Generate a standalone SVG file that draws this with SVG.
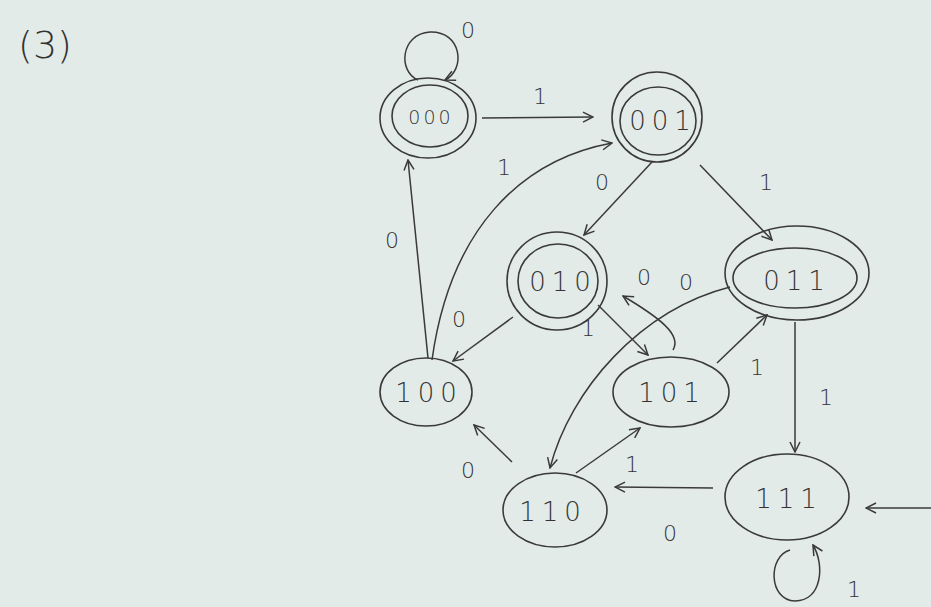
<svg xmlns="http://www.w3.org/2000/svg" width="931" height="607" viewBox="0 0 931 607">
<defs>
<marker id="a" viewBox="0 0 12 12" refX="11" refY="6" markerWidth="12" markerHeight="12" markerUnits="userSpaceOnUse" orient="auto">
<path d="M1 1 L11 6 L1 11" fill="none" stroke="#3a3a3a" stroke-width="1.5"/>
</marker>
<style>
.n{fill:none;stroke:#3a3a3a;stroke-width:1.6}
.e{fill:none;stroke:#3a3a3a;stroke-width:1.5;marker-end:url(#a)}
.t{font-family:"DejaVu Sans","Liberation Sans",sans-serif;fill:#333;text-anchor:middle;font-weight:300}
.l{font-size:22px}
.s{font-size:26px;letter-spacing:6px}
</style>
</defs>
<rect width="931" height="607" fill="#e3ebe9"/>
<text class="t" x="45" y="58" font-size="38">(3)</text>
<g id="connectors">
<path class="e" d="M418 80 C398 72 400 34 430 32 C462 31 466 70 445 80"/>
<path class="e" d="M482 118 L593 117"/>
<path class="e" d="M432 360 C450 230 520 160 612 143"/>
<path class="e" d="M428 358 L408 160"/>
<path class="e" d="M652 162 L584 235"/>
<path class="e" d="M700 165 L772 240"/>
<path class="e" d="M513 317 L453 361"/>
<path class="e" d="M598 305 L648 355"/>
<path class="e" d="M673 350 C682 335 660 318 623 296"/>
<path class="e" d="M730 287 C640 310 570 390 550 468"/>
<path class="e" d="M717 363 L767 315"/>
<path class="e" d="M795 322 L795 452"/>
<path class="e" d="M512 462 L474 425"/>
<path class="e" d="M576 473 L640 428"/>
<path class="e" d="M713 488 L615 487"/>
<path class="e" d="M790 550 C768 556 768 600 795 601 C822 601 825 565 813 545"/>
<path class="e" d="M931 508 L866 508"/>
<g class="t l">
<text x="468" y="38">0</text>
<text x="540" y="104">1</text>
<text x="504" y="175">1</text>
<text x="392" y="248">0</text>
<text x="602" y="190">0</text>
<text x="766" y="190">1</text>
<text x="459" y="327">0</text>
<text x="588" y="336">1</text>
<text x="644" y="285">0</text>
<text x="686" y="290">0</text>
<text x="757" y="375">1</text>
<text x="826" y="405">1</text>
<text x="468" y="478">0</text>
<text x="632" y="472">1</text>
<text x="670" y="541">0</text>
<text x="854" y="597">1</text>
</g>
</g>
<g id="s000"><ellipse class="n" cx="428" cy="118" rx="48" ry="40"/><ellipse class="n" cx="430" cy="116" rx="38" ry="31"/><text class="t" x="431" y="124" font-size="19" letter-spacing="3">000</text></g>
<g id="s001"><ellipse class="n" cx="657" cy="117" rx="45" ry="45"/><ellipse class="n" cx="658" cy="121" rx="38" ry="34"/><text class="t s" x="663" y="130">001</text></g>
<g id="s010"><ellipse class="n" cx="557" cy="281" rx="50" ry="49"/><ellipse class="n" cx="558" cy="281" rx="40" ry="37"/><text class="t s" x="563" y="291">010</text></g>
<g id="s011"><ellipse class="n" cx="797" cy="273" rx="72" ry="47"/><ellipse class="n" cx="795" cy="278" rx="62" ry="30"/><text class="t s" x="797" y="290">011</text></g>
<g id="s100"><ellipse class="n" cx="426" cy="392" rx="46" ry="34"/><text class="t s" x="429" y="402">100</text></g>
<g id="s101"><ellipse class="n" cx="671" cy="392" rx="58" ry="35"/><text class="t s" x="672" y="402">101</text></g>
<g id="s110"><ellipse class="n" cx="555" cy="510" rx="52" ry="37"/><text class="t s" x="553" y="521">110</text></g>
<g id="s111"><ellipse class="n" cx="787" cy="497" rx="62" ry="43"/><text class="t s" x="789" y="508">111</text></g>
</svg>
